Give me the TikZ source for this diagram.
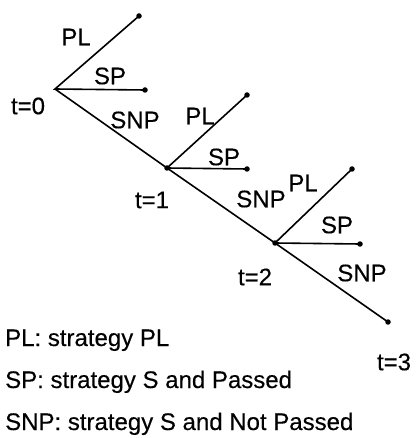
\documentclass[tikz,border=0pt]{standalone}
\usepackage{fontspec}
\setmainfont[FakeBold=0.3]{Liberation Sans}
\begin{document}
\begin{tikzpicture}[x=1pt,y=-1pt,
  branch/.style={line width=1.6pt},
  dot/.style={circle,fill=black,inner sep=0pt,minimum size=5.5pt},
  lbl/.style={font=\fontsize{24}{26}\selectfont,inner sep=0pt},
  legend/.style={font=\fontsize{24}{26}\selectfont,inner sep=0pt,anchor=base west}]
\useasboundingbox (0,0) rectangle (419,438);
\coordinate (n0) at (55,89);
\node[dot] (e0pl) at (139,16) {};
\node[dot] (e0sp) at (145,90) {};
\node[dot] (c1) at (167,168) {};
\node[dot] (e1pl) at (247,95) {};
\node[dot] (e1sp) at (247,169) {};
\node[dot] (c2) at (275,243) {};
\node[dot] (e2pl) at (352,169) {};
\node[dot] (e2sp) at (360,244) {};
\node[dot] (e3) at (388,322) {};
\draw[branch] (e0pl.center) -- (n0) -- (e0sp.center);
\draw[branch] (n0) -- (c1.center);
\draw[branch] (e1pl.center) -- (c1.center) -- (e1sp.center);
\draw[branch] (c1.center) -- (c2.center);
\draw[branch] (e2pl.center) -- (c2.center) -- (e2sp.center);
\draw[branch] (c2.center) -- (e3.center);
\node[lbl] (l0pl) at (76,37) {PL};
\node[lbl] (l0sp) at (110,76) {SP};
\node[lbl] (l0snp) at (135,120) {SNP};
\node[lbl] (t0) at (28,106) {t=0};
\node[lbl] (l1pl) at (200,116) {PL};
\node[lbl] (l1sp) at (224,157) {SP};
\node[lbl] (l1snp) at (261,199) {SNP};
\node[lbl] (t1) at (152,200) {t=1};
\node[lbl] (l2pl) at (303,183) {PL};
\node[lbl] (l2sp) at (337,225) {SP};
\node[lbl] (l2snp) at (362,273) {SNP};
\node[lbl] (t2) at (255,277) {t=2};
\node[lbl] (t3) at (394,362) {t=3};
\node[legend] (g1) at (5,346) {PL: strategy PL};
\node[legend] (g2) at (5,388) {SP: strategy S and Passed};
\node[legend] (g3) at (5,430) {SNP: strategy S and Not Passed};
\end{tikzpicture}
\end{document}
